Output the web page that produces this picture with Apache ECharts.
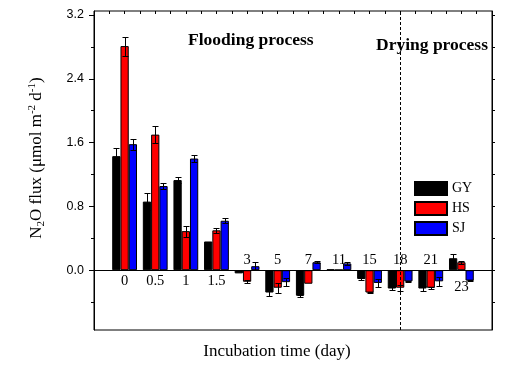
<!DOCTYPE html>
<html><head><meta charset="utf-8">
<script src="https://cdn.jsdelivr.net/npm/echarts@6/dist/echarts.min.js"></script>
<style>html,body{margin:0;padding:0;background:#fff}#c{width:508px;height:369px}</style>
</head><body><div id="c"></div>
<script>
// ---- data ----
const days = ['0','0.5','1','1.5','3','5','7','11','15','18','21','23'];
const gy = [1.43, 0.86, 1.13, 0.36, -0.04, -0.28, -0.32, 0.01, -0.11, -0.23, -0.23, 0.15];
const hs = [2.81, 1.70, 0.49, 0.50, -0.145, -0.22, -0.17, 0.005, -0.28, -0.22, -0.22, 0.10];
const sj = [1.58, 1.055, 1.40, 0.62, 0.05, -0.15, 0.10, 0.085, -0.16, -0.14, -0.14, -0.13];
const gyErr = [0.10, 0.11, 0.04, 0, 0, 0.04, 0.01, 0, 0.01, 0.02, 0.03, 0.05];
const hsErr = [0.12, 0.11, 0.07, 0.03, 0.02, 0.06, 0, 0, 0.01, 0.04, 0.01, 0.02];
const sjErr = [0.07, 0.04, 0.04, 0.03, 0.05, 0.05, 0.01, 0.02, 0.05, 0.01, 0.06, 0.01];
const seriesNames = ['GY', 'HS', 'SJ'];
const yTicks = [0, 0.8, 1.6, 2.4, 3.2];
const yMinorTicks = [-0.4, 0.4, 1.2, 2.0, 2.8];
const yRightTicks = [-0.4, 0, 0.4, 0.8, 1.2, 1.6, 2.0, 2.4, 2.8, 3.2];
const labelsBelow = ['0', '0.5', '1', '1.5'];
const labelsLow = ['23'];
const labelsAbove = ['3', '5', '7', '11', '15', '18', '21'];
const dividerDay = '18';

// ---- styles ----
const colors = ['#000000', '#ff0000', '#0000ff'];
const BAR_FRAC = 0.27;
const serif = 'Liberation Serif';
const sans = 'Liberation Sans';

const axisCats = [''].concat(days, [' ']);
const pad = arr => ['-'].concat(arr, ['-']);
const vals = [gy, hs, sj];
const errs = [gyErr, hsErr, sjErr];

function errRender(k) {
  return function (params, api) {
    const xi = api.value(0), v = api.value(1), e = api.value(2);
    if (!e) return;
    const band = api.size([1, 0])[0];
    const off = (k - 1) * band * BAR_FRAC;
    const p1 = api.coord([xi, v + e]);
    const p2 = api.coord([xi, v - e]);
    const cx = Math.round(p1[0] + off) + 0.5;
    const y1 = Math.round(p1[1]) + 0.5, y2 = Math.round(p2[1]) + 0.5;
    const cap = 3;
    const st = { stroke: '#000', lineWidth: 1 };
    return { type: 'group', children: [
      { type: 'line', shape: { x1: cx, y1: y1, x2: cx, y2: y2 }, style: st },
      { type: 'line', shape: { x1: cx - cap, y1: y1, x2: cx + cap, y2: y1 }, style: st },
      { type: 'line', shape: { x1: cx - cap, y1: y2, x2: cx + cap, y2: y2 }, style: st }
    ]};
  };
}

function dayLabelRender(params, api) {
  const name = days[params.dataIndex];
  const p = api.coord([api.value(0), 0]);
  let y, va;
  if (labelsAbove.includes(name)) { y = p[1] - 3; va = 'bottom'; }
  else if (labelsLow.includes(name)) { y = p[1] + 9; va = 'top'; }
  else { y = p[1] + 3; va = 'top'; }
  return { type: 'text', x: p[0], y: y,
    style: { text: name, fontFamily: serif, fontSize: 14.5, fill: '#000', align: 'center', verticalAlign: va } };
}

const series = [];
seriesNames.forEach((name, k) => {
  const s = {
    name: name, type: 'bar', xAxisIndex: 0, yAxisIndex: 0,
    data: pad(vals[k]), barWidth: (BAR_FRAC * 100) + '%', barGap: '0%',
    itemStyle: { color: colors[k], borderColor: '#000', borderWidth: 1 },
    z: 2
  };
  if (k === 1) {
    s.markLine = {
      silent: true, symbol: ['none', 'none'], label: { show: false },
      lineStyle: { color: '#000', type: [3, 2], width: 1 },
      data: [
        { xAxis: dividerDay },
        { yAxis: 0, lineStyle: { color: '#000', type: 'solid', width: 1 } }
      ]
    };
  }
  series.push(s);
});
seriesNames.forEach((name, k) => {
  series.push({
    name: 'err' + name, type: 'custom', xAxisIndex: 0, yAxisIndex: 0,
    renderItem: errRender(k), clip: false, z: 5,
    data: days.map((d, i) => [i + 1, vals[k][i], errs[k][i]])
  });
});
series.push({
  name: 'dayLabels', type: 'custom', xAxisIndex: 0, yAxisIndex: 0,
  renderItem: dayLabelRender, clip: false, z: 6, silent: true,
  data: days.map((d, i) => [i + 1, 0])
});

const chart = echarts.init(document.getElementById('c'));
chart.setOption({
  animation: false,
  backgroundColor: '#fff',
  grid: { left: 94, right: 16, top: 11, bottom: 39, show: true, borderColor: '#000', borderWidth: 1, outerBoundsMode: 'none' },
  legend: {
    data: seriesNames, orient: 'vertical', left: 409, top: 176,
    itemWidth: 32, itemHeight: 13, itemGap: 5, icon: 'rect',
    textStyle: { fontFamily: serif, fontSize: 14, color: '#000' }
  },
  xAxis: [
    {
      type: 'category', data: axisCats, boundaryGap: false, position: 'bottom',
      axisLine: { show: false, onZero: false },
      axisTick: { show: false }, splitLine: { show: false },
      axisLabel: { show: false }
    },
    {
      type: 'value', min: 0, max: 26, interval: 1, position: 'top',
      axisLine: { show: false, onZero: false },
      axisTick: { show: true, inside: true, length: 3, lineStyle: { color: '#000' } },
      axisLabel: { show: false }, splitLine: { show: false }
    }
  ],
  yAxis: [
    {
      type: 'value', min: -0.75, max: 3.25, position: 'left',
      axisLine: { show: true, onZero: false, lineStyle: { color: '#000', width: 1 } },
      axisTick: { show: true, length: 5, customValues: yTicks, lineStyle: { color: '#000' } },
      axisLabel: { customValues: yTicks, margin: 10, color: '#000', fontFamily: sans, fontSize: 12.5, formatter: v => v.toFixed(1) },
      splitLine: { show: false }
    },
    {
      type: 'value', min: -0.75, max: 3.25, position: 'right',
      axisLine: { show: true, onZero: false, lineStyle: { color: '#000', width: 1 } },
      axisTick: { show: true, length: 3, customValues: yRightTicks, lineStyle: { color: '#000' } },
      axisLabel: { show: false }, splitLine: { show: false }
    },
    {
      type: 'value', min: -0.75, max: 3.25, position: 'left',
      axisLine: { show: false, onZero: false },
      axisTick: { show: true, length: 3, customValues: yMinorTicks, lineStyle: { color: '#000' } },
      axisLabel: { show: false }, splitLine: { show: false }
    }
  ],
  graphic: [
    {
      type: 'text', x: 37, y: 158, rotation: Math.PI / 2,
      style: {
        text: 'N{sub|2}O flux (μmol m{sup|-2} d{sup|-1})',
        fontFamily: serif, fontSize: 17, fill: '#000', align: 'center', verticalAlign: 'middle',
        rich: {
          sub: { fontFamily: serif, fontSize: 11, lineHeight: 11, verticalAlign: 'bottom', fill: '#000' },
          sup: { fontFamily: serif, fontSize: 11, lineHeight: 11, verticalAlign: 'top', fill: '#000' }
        },
        lineHeight: 20
      }
    },
    {
      type: 'text', x: 277, y: 352,
      style: { text: 'Incubation time (day)', fontFamily: serif, fontSize: 17, fill: '#000', align: 'center', verticalAlign: 'middle' }
    },
    {
      type: 'text', x: 188, y: 40,
      style: { text: 'Flooding process', fontFamily: serif, fontWeight: 'bold', fontSize: 17.5, fill: '#000', align: 'left', verticalAlign: 'middle' }
    },
    {
      type: 'text', x: 376, y: 45,
      style: { text: 'Drying process', fontFamily: serif, fontWeight: 'bold', fontSize: 17.5, fill: '#000', align: 'left', verticalAlign: 'middle' }
    }
  ],
  series: series
});
</script>
</body></html>
